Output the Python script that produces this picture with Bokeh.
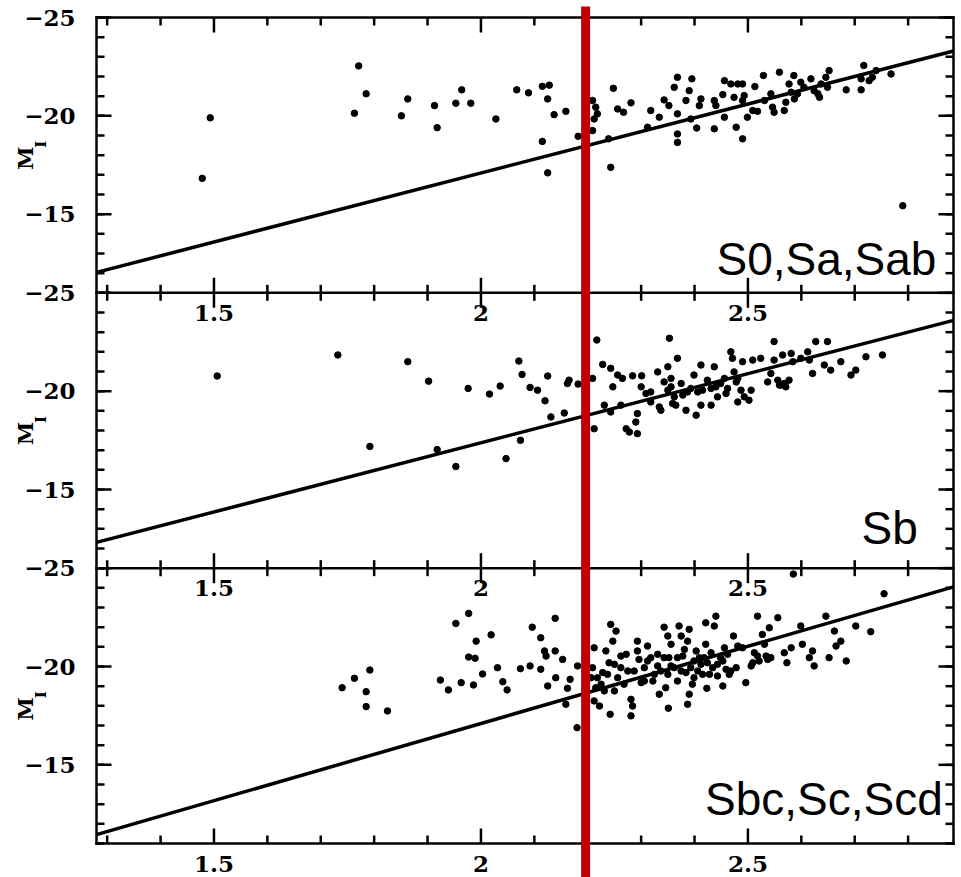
import math
from bokeh.plotting import figure
from bokeh.models import Range1d
from bokeh.embed import file_html
from bokeh.resources import INLINE
from bokeh.core.properties import value

# ---------------- data ----------------
x_lim = [1.28, 2.885]
y_top, y_bottom = -25, -11
x_major = [1.5, 2.0, 2.5]
x_major_text = ["1.5", "2", "2.5"]
x_minor = [1.3, 1.4, 1.6, 1.7, 1.8, 1.9, 2.1, 2.2, 2.3, 2.4, 2.6, 2.7, 2.8]
y_major = [-25, -20, -15]
y_major_text = ["\u221225", "\u221220", "\u221215"]
y_minor = list(range(-25, -10))
red_line_x = 2.196
panel_names = ["S0,Sa,Sab", "Sb", "Sbc,Sc,Scd"]
name_x = [2.853, 2.818, 2.865]
name_y = [-12.74, -13.05, -13.26]
y_label_main, y_label_sub = "M", "I"

fit_x = [1.28, 2.885]
fit1_y = [-12.04, -23.3]
fit2_y = [-12.31, -23.6]
fit3_y = [-11.45, -24.05]

x1 = [1.478, 1.493, 1.763, 1.771, 1.785, 1.851, 1.863, 1.913, 1.918, 1.953,
      1.964, 1.981, 2.028, 2.067, 2.089, 2.115, 2.128, 2.125, 2.137, 2.159,
      2.115, 2.125, 2.182, 2.209, 2.215, 2.218, 2.212, 2.209, 2.248, 2.256,
      2.267, 2.281, 2.239, 2.243, 2.312, 2.318, 2.334, 2.343, 2.352, 2.368,
      2.362, 2.368, 2.368, 2.368, 2.384, 2.395, 2.390, 2.393, 2.404, 2.409,
      2.412, 2.437, 2.437, 2.440, 2.453, 2.456, 2.456, 2.468, 2.474, 2.478,
      2.481, 2.490, 2.490, 2.490, 2.493, 2.499, 2.509, 2.513, 2.518, 2.529,
      2.531, 2.543, 2.546, 2.549, 2.559, 2.568, 2.571, 2.577, 2.581, 2.586,
      2.587, 2.593, 2.599, 2.605, 2.618, 2.624, 2.631, 2.634, 2.637, 2.646,
      2.652, 2.649, 2.684, 2.712, 2.717, 2.712, 2.727, 2.733, 2.740, 2.768,
      2.790]
y1 = [-16.82, -19.90, -20.13, -22.54, -21.12, -20.00, -20.86, -20.52, -19.40, -20.64,
      -21.32, -20.64, -19.84, -21.32, -21.17, -21.50, -21.56, -20.86, -20.06, -20.23,
      -18.70, -17.10, -18.96, -20.78, -20.44, -20.10, -19.84, -19.25, -21.40, -20.35,
      -20.18, -20.66, -18.83, -17.38, -19.42, -20.27, -19.93, -20.81, -20.52, -21.96,
      -21.45, -20.10, -19.08, -18.65, -20.78, -21.88, -21.28, -19.84, -19.38, -20.52,
      -20.86, -20.78, -19.34, -20.52, -21.08, -21.79, -19.93, -21.62, -20.94, -19.42,
      -21.62, -21.62, -20.78, -18.83, -21.03, -19.93, -20.27, -21.49, -20.23, -22.05,
      -20.78, -21.12, -20.44, -20.18, -22.22, -20.27, -20.69, -21.62, -21.20, -22.05,
      -20.86, -21.12, -21.71, -21.45, -21.88, -21.28, -21.12, -20.94, -21.62, -21.96,
      -22.30, -21.45, -21.32, -21.32, -22.56, -21.88, -21.79, -21.96, -22.30, -22.13,
      -15.43]

x2 = [1.506, 1.732, 1.792, 1.863, 1.902, 1.918, 1.953, 1.976, 2.016, 2.036,
      2.047, 2.071, 2.074, 2.077, 2.092, 2.106, 2.120, 2.125, 2.131, 2.156,
      2.162, 2.165, 2.182, 2.209, 2.212, 2.217, 2.228, 2.231, 2.243, 2.243,
      2.247, 2.256, 2.265, 2.272, 2.278, 2.284, 2.290, 2.293, 2.293, 2.300,
      2.301, 2.318, 2.331, 2.334, 2.337, 2.350, 2.350, 2.353, 2.356, 2.359,
      2.362, 2.365, 2.368, 2.378, 2.384, 2.387, 2.399, 2.403, 2.412, 2.412,
      2.415, 2.424, 2.431, 2.437, 2.440, 2.443, 2.456, 2.459, 2.468, 2.471,
      2.474, 2.478, 2.481, 2.490, 2.493, 2.502, 2.506, 2.509, 2.524, 2.537,
      2.543, 2.549, 2.549, 2.559, 2.565, 2.568, 2.577, 2.581, 2.584, 2.599,
      2.612, 2.615, 2.621, 2.627, 2.643, 2.649, 2.655, 2.674, 2.693, 2.702,
      2.721, 2.752, 2.343, 2.356, 2.375, 2.393, 2.406, 2.431, 2.449, 2.462,
      2.481, 2.487, 2.318, 2.309, 2.562, 2.571, 2.556, 2.262]
y2 = [-20.77, -21.84, -17.19, -21.50, -20.51, -17.03, -16.17, -20.14, -19.85, -20.26,
      -16.57, -21.53, -17.50, -20.85, -20.19, -20.05, -19.51, -20.77, -18.69, -18.89,
      -20.39, -20.56, -20.36, -20.65, -18.09, -22.60, -21.36, -19.29, -21.16, -18.94,
      -20.22, -20.82, -20.65, -18.09, -17.92, -20.78, -18.43, -17.84, -18.86, -20.22,
      -20.78, -19.96, -20.98, -19.20, -19.03, -21.24, -20.05, -22.69, -20.65, -19.37,
      -19.71, -19.29, -21.67, -19.80, -19.03, -19.96, -20.82, -18.78, -21.33, -19.29,
      -20.05, -20.56, -19.29, -21.24, -20.22, -19.71, -20.65, -19.88, -22.00, -21.67,
      -20.98, -20.47, -19.45, -21.50, -19.71, -19.54, -20.05, -21.58, -21.67, -20.47,
      -20.90, -22.52, -21.58, -20.31, -21.84, -20.39, -20.56, -21.92, -21.50, -21.67,
      -22.00, -21.58, -20.90, -22.52, -21.33, -22.52, -21.07, -21.50, -20.82, -21.07,
      -21.75, -21.84, -20.47, -20.22, -20.39, -20.14, -19.96, -20.14, -20.39, -20.14,
      -20.65, -20.05, -19.45, -19.88, -20.31, -20.22, -20.56, -19.29]

x3 = [1.740, 1.763, 1.792, 1.785, 1.785, 1.825, 1.924, 1.939, 1.953, 1.977,
      1.963, 1.977, 1.991, 1.989, 1.986, 2.003, 2.019, 2.031, 2.041, 2.049,
      2.074, 2.092, 2.096, 2.112, 2.112, 2.119, 2.122, 2.125, 2.139, 2.139,
      2.140, 2.153, 2.162, 2.167, 2.159, 2.180, 2.181, 2.212, 2.209, 2.212,
      2.222, 2.225, 2.228, 2.234, 2.240, 2.242, 2.243, 2.247, 2.250, 2.253,
      2.256, 2.262, 2.272, 2.275, 2.281, 2.281, 2.284, 2.293, 2.296, 2.300,
      2.306, 2.312, 2.318, 2.322, 2.331, 2.334, 2.337, 2.343, 2.346, 2.350,
      2.351, 2.352, 2.356, 2.362, 2.368, 2.371, 2.375, 2.378, 2.384, 2.387,
      2.387, 2.390, 2.390, 2.396, 2.399, 2.403, 2.406, 2.412, 2.418, 2.421,
      2.421, 2.423, 2.428, 2.431, 2.437, 2.440, 2.443, 2.449, 2.453, 2.456,
      2.459, 2.465, 2.473, 2.478, 2.481, 2.490, 2.496, 2.506, 2.512, 2.518,
      2.521, 2.527, 2.531, 2.534, 2.540, 2.543, 2.556, 2.568, 2.573, 2.581,
      2.585, 2.599, 2.602, 2.615, 2.621, 2.624, 2.646, 2.652, 2.662, 2.665,
      2.674, 2.684, 2.702, 2.730, 2.755, 2.262, 2.268, 2.287, 2.293, 2.306,
      2.312, 2.325, 2.331, 2.343, 2.350, 2.356, 2.368, 2.375, 2.381, 2.393,
      2.399, 2.409, 2.415, 2.424, 2.434, 2.443, 2.453, 2.462, 2.468, 2.218,
      2.231, 2.237, 2.250, 2.215, 2.206, 2.518, 2.537, 2.509]
y3 = [-18.92, -19.40, -19.82, -18.72, -17.96, -17.74, -19.31, -18.81, -22.19, -22.70,
      -19.18, -20.48, -21.29, -20.42, -19.06, -19.62, -21.61, -19.94, -19.23, -18.81,
      -19.89, -20.03, -22.00, -21.46, -19.86, -20.79, -20.53, -19.01, -22.45, -20.79,
      -19.43, -20.36, -18.89, -19.35, -18.08, -16.89, -20.03, -20.95, -19.94, -18.25,
      -17.99, -19.10, -19.69, -20.79, -20.19, -17.57, -22.14, -21.29, -18.76, -21.80,
      -19.43, -20.53, -20.62, -19.77, -18.33, -17.49, -17.99, -21.29, -20.36, -19.18,
      -19.94, -21.04, -20.45, -19.26, -20.62, -18.59, -19.77, -22.00, -18.92, -21.55,
      -17.88, -20.45, -21.13, -19.94, -19.26, -22.06, -21.55, -20.53, -19.69, -21.29,
      -18.08, -21.89, -18.59, -19.10, -20.28, -20.79, -19.77, -20.11, -20.45, -21.13,
      -22.22, -18.89, -19.60, -20.70, -22.06, -22.56, -20.11, -20.45, -19.01, -20.95,
      -19.86, -19.60, -21.55, -19.94, -21.04, -20.95, -19.18, -20.03, -20.70, -22.56,
      -20.28, -21.63, -21.13, -20.53, -21.97, -20.45, -22.48, -20.70, -20.19, -20.95,
      -24.70, -22.06, -21.13, -20.45, -20.79, -20.03, -22.56, -20.45, -21.80, -21.04,
      -21.29, -20.28, -22.06, -21.77, -23.70, -19.94, -19.10, -19.77, -20.79, -19.26,
      -20.28, -19.60, -20.03, -20.45, -19.60, -20.03, -20.45, -19.77, -20.87, -19.94,
      -19.43, -20.45, -19.60, -20.19, -19.94, -19.52, -20.28, -20.62, -19.77, -19.43,
      -18.76, -19.60, -20.11, -18.92, -19.43, -20.53, -20.36, -20.19]

panels = [(x1, y1, fit1_y), (x2, y2, fit2_y), (x3, y3, fit3_y)]
for xs, ys, _ in panels:
    assert len(xs) == len(ys)

# ---------------- geometry / style ----------------
W, H = 961, 877
BL, BR, BT, BB = 96, 8, 17, 34          # margins around the stack of panels
RED_TOP = 6                              # red line starts this far below the page top
n = len(panels)
span = y_bottom - y_top                  # 14 magnitudes per panel
U = n * span
TICK_FONT = "DejaVu Serif"
MAJ, MIN, LW = 15, 8, 2.5

box_w = W - BL - BR
box_h = H - BT - BB
ppx = box_w / (x_lim[1] - x_lim[0])      # pixels per x unit
ppu = box_h / U                          # pixels per magnitude
u_canvas_top = -BT / ppu
u_canvas_bottom = U + BB / ppu

p = figure(width=W, height=H,
           x_range=Range1d(x_lim[0] - BL / ppx, x_lim[1] + BR / ppx),
           y_range=Range1d(u_canvas_bottom, u_canvas_top),
           output_backend="svg", toolbar_location=None,
           x_axis_location=None, y_axis_location=None, min_border=0)
p.grid.visible = False
p.outline_line_color = None
p.background_fill_color = "white"
p.border_fill_color = "white"

for k in range(n):
    off = y_top - span * k
    p.extra_y_ranges[f"p{k}"] = Range1d(off + u_canvas_bottom, off + u_canvas_top)

u_edges = [span * k for k in range(n + 1)]
u_major = [(v - y_top) + span * k for k in range(n) for v in y_major]
u_major_text = [t for k in range(n) for t in y_major_text]
u_minor = sorted({(v - y_top) + span * k for k in range(n) for v in y_minor})

# ---- panel boxes ----
p.segment(x0=[x_lim[0]] * len(u_edges), x1=[x_lim[1]] * len(u_edges),
          y0=u_edges, y1=u_edges, line_color="black", line_width=LW, line_cap="square")
p.segment(x0=x_lim, x1=x_lim, y0=[0, 0], y1=[U, U],
          line_color="black", line_width=LW, line_cap="square")

# ---- ticks on the vertical edges (inward) ----
for ticks, ln in ((u_major, MAJ), (u_minor, MIN)):
    m = len(ticks)
    p.segment(x0=[x_lim[0]] * m, x1=[x_lim[0] + ln / ppx] * m, y0=ticks, y1=ticks,
              line_color="black", line_width=LW)
    p.segment(x0=[x_lim[1]] * m, x1=[x_lim[1] - ln / ppx] * m, y0=ticks, y1=ticks,
              line_color="black", line_width=LW)

# ---- ticks on the horizontal edges (inward; crossing at inner edges) ----
for ticks, ln in ((x_major, MAJ), (x_minor, MIN)):
    d = ln / ppu
    xs_all, y0s, y1s = [], [], []
    for k, u in enumerate(u_edges):
        for t in ticks:
            xs_all.append(t)
            y0s.append(u - d if k > 0 else u)
            y1s.append(u + d if k < n else u)
    p.segment(x0=xs_all, x1=xs_all, y0=y0s, y1=y1s, line_color="black", line_width=LW)

# ---- tick labels ----
p.text(x=[x_lim[0]] * len(u_major), y=u_major, text=u_major_text,
       x_offset=-21, text_align="right", text_baseline="middle",
       text_font=value(TICK_FONT), text_font_style="bold", text_font_size="23px",
       text_color="black")
for u in u_edges[1:]:
    p.text(x=x_major, y=[u] * len(x_major), text=x_major_text,
           text_align="center", text_baseline="top", y_offset=12,
           text_font=value(TICK_FONT), text_font_style="bold",
           text_font_size="23px", text_color="black")

# ---- y-axis titles M_I, one per panel ----
mids = [span * k + span / 2 for k in range(n)]
p.text(x=[x_lim[0]] * n, y=mids, text=[y_label_main] * n, angle=math.pi / 2,
       x_offset=-71, y_offset=3, text_align="center", text_baseline="middle",
       text_font=value(TICK_FONT), text_font_style="bold", text_font_size="21px",
       text_color="black")
p.text(x=[x_lim[0]] * n, y=mids, text=[y_label_sub] * n, angle=math.pi / 2,
       x_offset=-56, y_offset=-11, text_align="center", text_baseline="middle",
       text_font=value(TICK_FONT), text_font_style="bold", text_font_size="15px",
       text_color="black")

# ---- panels: fit line, galaxies, type label ----
for k, (xs, ys, fy) in enumerate(panels):
    rn = f"p{k}"
    p.line(x=fit_x, y=fy, y_range_name=rn, line_color="black", line_width=3.5)
    p.scatter(x=xs, y=ys, y_range_name=rn, marker="circle", size=6.5,
              fill_color="black", line_color="black")
    p.text(x=[name_x[k]], y=[name_y[k]], text=[panel_names[k]], y_range_name=rn,
           text_align="right", text_baseline="alphabetic",
           text_font=value("Liberation Sans"), text_font_size="46px", text_color="black")

# ---- red vertical marker line over everything ----
p.segment(x0=[red_line_x], x1=[red_line_x],
          y0=[-(BT - RED_TOP) / ppu], y1=[u_canvas_bottom],
          line_color="#c00000", line_width=9)

open("out.html", "w").write(file_html(p, INLINE))
